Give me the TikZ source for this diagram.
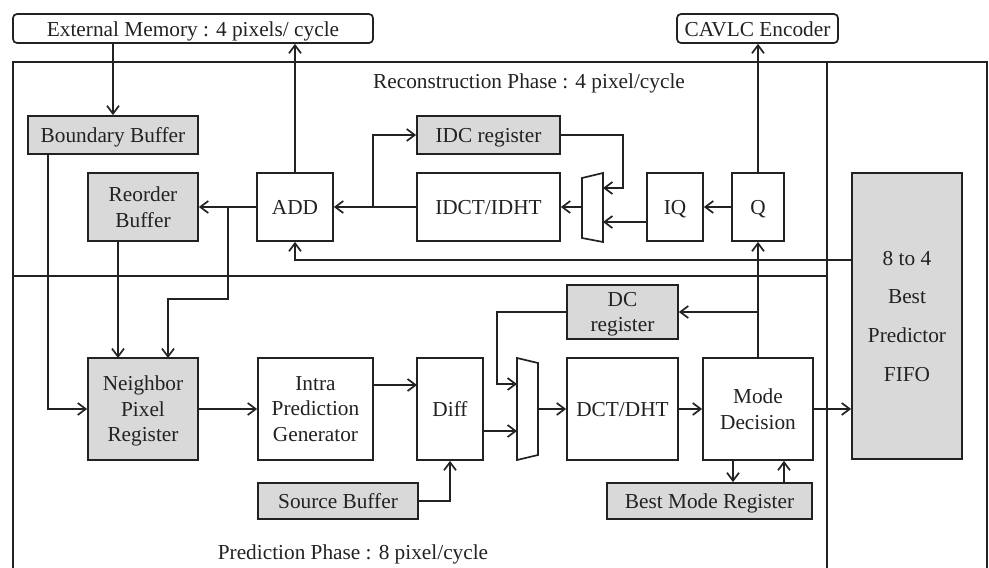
\documentclass[tikz,border=0pt]{standalone}
\usepackage{fontspec}
\setmainfont{Liberation Serif}
\usetikzlibrary{arrows.meta,calc}
\definecolor{ink}{HTML}{222222}
\definecolor{regfill}{HTML}{D9D9D9}
\begin{document}
\begin{tikzpicture}[x=1pt,y=-1pt,
  line width=1.7pt, draw=ink, text=ink,
  every node/.style={font=\fontsize{21.3}{25.6}\selectfont, inner sep=0pt, align=center, text depth=0pt},
  one/.style={text height=15.5pt},
  blk/.style={draw=ink, fill=white, line width=1.7pt},
  reg/.style={blk, fill=regfill},
  io/.style={draw=ink, rounded corners=4pt, line width=1.7pt, one},
  arr/.style={draw=ink, line width=1.7pt, -{Straight Barb[length=8pt,width=12pt]}}]
\useasboundingbox (0,0) rectangle (989,568);

% phase frames
\draw (13,575) -- (13,62) -- (987,62) -- (987,575);
\draw (827,62) -- (827,575);
\draw (13,276) -- (827,276);
\node[one] (recph) at (529,81) {Reconstruction Phase : 4 pixel/cycle};
\node[one] (predph) at (353,552) {Prediction Phase : 8 pixel/cycle};

% external interfaces
\node[io, minimum width=360pt, minimum height=29pt] (extmem) at (193,28.5) {External Memory : 4 pixels/ cycle};
\node[io, minimum width=161pt, minimum height=29pt] (cavlc) at (757.5,28.5) {CAVLC Encoder};

% reconstruction blocks
\node[reg, one, minimum width=170pt, minimum height=38pt] (boundary) at (113,135) {Boundary Buffer};
\node[reg, minimum width=110pt, minimum height=68pt] (reorder) at (143,207) {Reorder\\Buffer};
\node[blk, one, minimum width=76pt, minimum height=68pt] (add) at (295,207) {ADD};
\node[reg, one, minimum width=143pt, minimum height=38pt] (idcreg) at (488.5,135) {IDC register};
\node[blk, one, minimum width=143pt, minimum height=68pt] (idct) at (488.5,207) {IDCT/IDHT};
\node[blk, one, minimum width=56pt, minimum height=68pt] (iq) at (675,207) {IQ};
\node[blk, one, minimum width=52pt, minimum height=68pt] (q) at (758,207) {Q};
\node[reg, minimum width=110pt, minimum height=286pt,
      font=\fontsize{21.3}{38.7}\selectfont] (fifo) at (907,316) {8 to 4\\Best\\Predictor\\FIFO};

% prediction blocks
\node[reg, minimum width=110pt, minimum height=102pt] (neighbor) at (143,409) {Neighbor\\Pixel\\Register};
\node[blk, minimum width=115pt, minimum height=102pt] (intra) at (315.5,409) {Intra\\Prediction\\Generator};
\node[blk, one, minimum width=66pt, minimum height=102pt] (diff) at (450,409) {Diff};
\node[reg, one, minimum width=160pt, minimum height=36pt] (source) at (338,501) {Source Buffer};
\node[reg, minimum width=111pt, minimum height=54pt] (dcreg) at (622.5,312) {DC\\register};
\node[blk, one, minimum width=111pt, minimum height=102pt] (dct) at (622.5,409) {DCT/DHT};
\node[blk, minimum width=110pt, minimum height=102pt] (mode) at (758,409) {Mode\\Decision};
\node[reg, one, minimum width=205pt, minimum height=36pt] (bestmode) at (709.5,501) {Best Mode Register};

% multiplexers
\draw[line join=miter] (582,178) -- (603,173) -- (603,242) -- (582,238) -- cycle;
\coordinate (muxAin1) at (603,188);
\coordinate (muxAin2) at (603,222);
\coordinate (muxAout) at (582,207);
\draw[line join=miter] (517,358) -- (538,363) -- (538,455) -- (517,460) -- cycle;
\coordinate (muxBin1) at (517,384);
\coordinate (muxBin2) at (517,431);
\coordinate (muxBout) at (538,409);

% helper points
\coordinate (splitA) at (373,207);
\coordinate (splitB) at (228,207);
\coordinate (kinkB) at (168,299);
\coordinate (nbTop1) at (118,358);
\coordinate (nbTop2) at (168,358);
\coordinate (bbOut) at (48,154);
\coordinate (bendA) at (623,188);
\coordinate (diffIn) at (417,385);
\coordinate (bendC) at (497,384);

% reconstruction connectors
\draw[arr] (boundary.north |- extmem.south) -- (boundary.north);
\draw[arr] (add.north) -- (add.north |- extmem.south);
\draw[arr] (q.north) -- (q.north |- cavlc.south);
\draw[arr] (idct.west) -- (add.east);
\draw[arr] (splitA) |- (idcreg.west);
\draw[arr] (idcreg.east) -| (bendA) -- (muxAin1);
\draw[arr] (iq.west |- muxAin2) -- (muxAin2);
\draw[arr] (muxAout) -- (idct.east);
\draw[arr] (q.west) -- (iq.east);
\draw[arr] (add.west) -- (reorder.east);
\draw[arr] (splitB) |- (kinkB) -- (nbTop2);
\draw[arr] (nbTop1 |- reorder.south) -- (nbTop1);
\draw[arr] (bbOut) |- (neighbor.west);
\draw[arr] ([yshift=56pt]fifo.west) -| (add.south);

% prediction connectors
\draw[arr] (neighbor.east) -- (intra.west |- neighbor.east);
\draw[arr] (intra.east |- diffIn) -- (diffIn);
\draw[arr] (source.east) -| (diff.south);
\draw[arr] (diff.east |- muxBin2) -- (muxBin2);
\draw[arr] (dcreg.west) -| (bendC) -- (muxBin1);
\draw[arr] (muxBout) -- (dct.west);
\draw[arr] (dct.east) -- (mode.west);
\draw[arr] (mode.east) -- (fifo.west |- mode.east);
\draw[arr] (mode.north) -- (mode.north |- q.south);
\draw[arr] (mode.north |- dcreg.east) -- (dcreg.east);
\draw[arr] ([xshift=-25pt]mode.south) -- ([xshift=-25pt]mode.south |- bestmode.north);
\draw[arr] ([xshift=26pt]mode.south |- bestmode.north) -- ([xshift=26pt]mode.south);
\end{tikzpicture}
\end{document}
